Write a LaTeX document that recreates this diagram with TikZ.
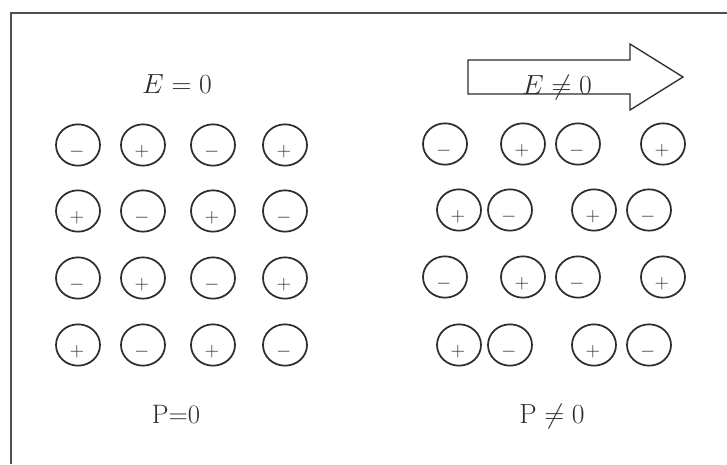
\documentclass[tikz,border=0pt]{standalone}
\usepackage{amsmath,amssymb}
\usetikzlibrary{shapes.geometric}
\definecolor{ink}{RGB}{45,45,45}
\definecolor{framegray}{RGB}{80,80,80}
\tikzset{
  ion/.style={draw=ink, ellipse, line width=1.3pt, minimum width=33pt,
      minimum height=31pt, inner sep=0pt},
  sgn/.style={font=\fontsize{15}{17}\selectfont, text=ink, inner sep=0pt},
  fieldlbl/.style={font=\fontsize{20}{24}\selectfont, text=ink, anchor=base},
  fieldarrow/.style={draw=ink, line width=1pt, line join=miter},
  frame/.style={draw=framegray, line width=1.6pt},
}

\begin{document}
\begin{tikzpicture}[x=0.75pt, y=-0.75pt]
      \useasboundingbox (0,0) rectangle (727,464);
      \draw[frame] (727,13) -- (11,13) -- (11,464);

      % === No field: regular lattice (left) ===
      \node[fieldlbl] (ezero) at (177,93) {$E=0$};
      \foreach \x/\y/\s [count=\i] in {78/145/-, 143/145/+, 213/145/-, 285/145/+,
          78/211/+, 143/211/-, 213/211/+, 285/211/-,
          78/278/-, 143/278/+, 213/278/-, 285/278/+,
          78/345/+, 143/345/-, 213/345/+, 285/345/-} {
        \node[ion] (l\i) at (\x,\y) {};
        \node[sgn] at ([xshift=-0.8pt, yshift=-5pt]l\i.center) {$\s$};
      }
      \node[fieldlbl] (pzero) at (176,423) {P=0};

      % === Applied field: displaced charges (right) ===
      \draw[fieldarrow] (468,60) -- (630,60) -- (630,44) -- (683,77)
          -- (630,110) -- (630,94) -- (468,94) -- cycle;
      \node[fieldlbl] (enot) at (557,94) {$E\neq0$};
      \foreach \x/\y/\s [count=\i] in {445/144/-, 523/144/+, 578/144/-, 663/144/+,
          459/210/+, 510/210/-, 594/210/+, 649/210/-,
          445/277/-, 523/277/+, 578/277/-, 663/277/+,
          459/345/+, 510/345/-, 594/345/+, 649/345/-} {
        \node[ion] (r\i) at (\x,\y) {};
        \node[sgn] at ([xshift=-0.8pt, yshift=-5pt]r\i.center) {$\s$};
      }
      \node[fieldlbl] (pnot) at (552,423) {$\mathrm{P}\neq0$};
\end{tikzpicture}
\end{document}
